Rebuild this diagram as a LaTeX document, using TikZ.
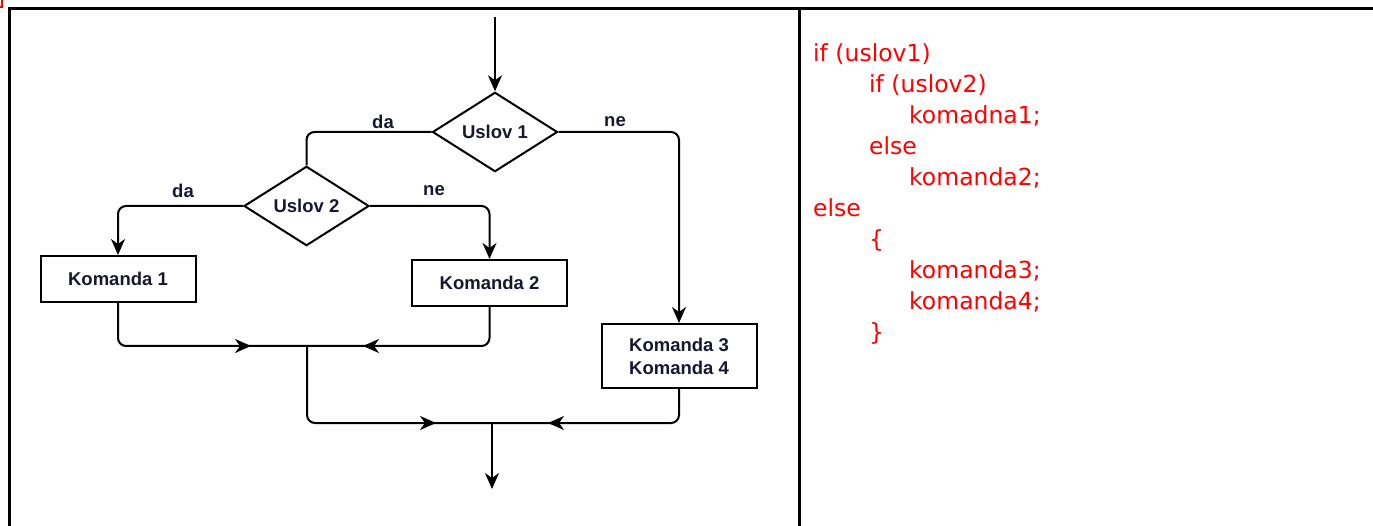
\documentclass[tikz,border=0pt]{standalone}
\usepackage{fontspec}
\setmainfont{Liberation Sans}
\newfontfamily\codefont{DejaVu Sans}
\usetikzlibrary{shapes.geometric}
\usetikzlibrary{arrows.meta}
\usetikzlibrary{decorations.markings}

\definecolor{codered}{RGB}{255,0,0}
\definecolor{labelink}{RGB}{22,24,48}

\tikzset{
  flow/.style={line width=2pt, rounded corners=8pt},
  tip/.style={-{Stealth[length=16pt,width=14pt,inset=5pt]}},
  midtip/.style={postaction={decorate},
    decoration={markings, mark=at position -56pt with {\arrow{Stealth[length=16pt,width=14pt,inset=5pt]}}}},
  cond/.style={diamond, draw, line width=2pt, inner sep=0pt,
    minimum width=125pt, minimum height=73pt,
    font=\bfseries\fontsize{18.5}{22}\selectfont, text=labelink},
  cmd/.style={rectangle, draw, line width=2pt, minimum width=155pt,
    minimum height=46pt, align=center,
    font=\bfseries\fontsize{18.5}{23}\selectfont, text=labelink},
  lbl/.style={font=\bfseries\fontsize{18.5}{22}\selectfont, text=labelink},
  code/.style={anchor=base west, inner sep=0pt, text=codered,
    font=\codefont\fontsize{23.5}{27}\selectfont}
}

\begin{document}
\begin{tikzpicture}[x=1pt,y=-1pt]
\useasboundingbox (0,0) rectangle (1373,526);
% table
\draw [line width=3pt] (9,526) -- (9,9) -- (1373,9);
\draw [line width=3pt] (799,9) -- (799,526);
\draw [codered, line width=2pt] (0,7) -- (2,7) -- (2,0);

% flowchart
\node[cond] (u1) at (495,132) {Uslov 1};
\node[cond] (u2) at (306.5,206) {Uslov 2};
\node[cmd] (k1) at (118,279) {Komanda 1};
\node[cmd] (k2) at (489.5,283) {Komanda 2};
\node[cmd, minimum height=64pt] (k3) at (679,356) {Komanda 3\\Komanda 4};
\coordinate (start) at (495,17);
\coordinate (j1) at (307,346);
\coordinate (j2) at (492,423);
\coordinate (stop) at (492,489);

\draw [flow,tip] (start) -- (u1.north);
\draw [flow] (u1.west) -| (u2.north);
\draw [flow,tip] (u1.east) -| (k3.north);
\draw [flow,tip] (u2.west) -| (k1.north);
\draw [flow,tip] (u2.east) -| (k2.north);
\draw [flow,midtip] (k1.south) |- (j1);
\draw [flow,midtip] (k2.south) |- (j1);
\draw [flow,midtip] (j1) |- (j2);
\draw [flow,midtip] (k3.south) |- (j2);
\draw [flow,tip] (j2) -- (stop);

\node[lbl] (da1) at (383,122) {da};
\node[lbl] (ne1) at (615,122) {ne};
\node[lbl] (da2) at (183,191) {da};
\node[lbl] (ne2) at (434,191) {ne};

% code
\foreach \n/\x/\y/\t in {1/813/62/{if (uslov1)}, 2/869/93/{if (uslov2)},
    3/909/124/{komadna1;}, 4/869/155/{else}, 5/909/186/{komanda2;},
    6/813/217/{else}, 7/869/248/{\{}, 8/909/279/{komanda3;},
    9/909/310/{komanda4;}, 10/869/341/{\}}}
  \node[code] (line\n) at (\x,\y) {\t};
\end{tikzpicture}
\end{document}
